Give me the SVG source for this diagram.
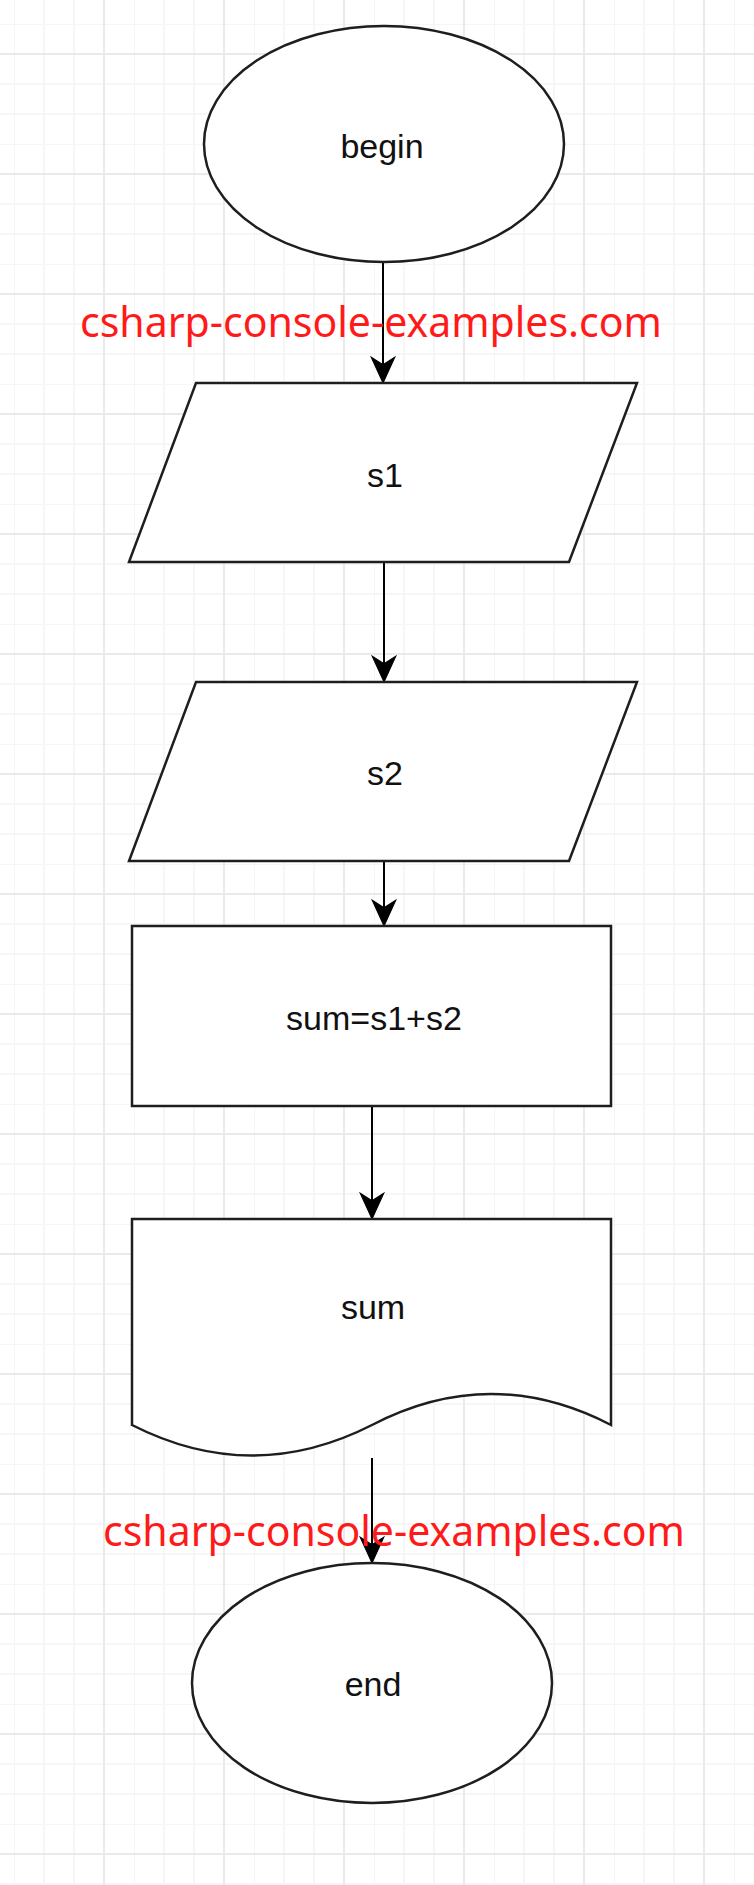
<svg xmlns="http://www.w3.org/2000/svg" width="754" height="1885" viewBox="0 0 754 1885">
  <defs>
    <pattern id="grid" x="14" y="24" width="120" height="120" patternUnits="userSpaceOnUse">
      <g stroke="#f6f6f6" stroke-width="2">
        <line x1="0" y1="0" x2="0" y2="120"/>
        <line x1="30" y1="0" x2="30" y2="120"/>
        <line x1="60" y1="0" x2="60" y2="120"/>
        <line x1="0" y1="0" x2="120" y2="0"/>
        <line x1="0" y1="60" x2="120" y2="60"/>
        <line x1="0" y1="90" x2="120" y2="90"/>
      </g>
      <g stroke="#eaeaea" stroke-width="2">
        <line x1="90" y1="0" x2="90" y2="120"/>
        <line x1="0" y1="30" x2="120" y2="30"/>
      </g>
    </pattern>
    <marker id="arrow" markerUnits="userSpaceOnUse" markerWidth="30" markerHeight="30" viewBox="-26 -13 28 26" refX="0" refY="0" orient="auto">
      <path d="M0,0 L-24,-11 L-17,0 L-24,11 Z" fill="#000" stroke="#000" stroke-width="1" stroke-linejoin="miter"/>
    </marker>
    <style>
      .shape { fill: #ffffff; stroke: #1e1e1e; stroke-width: 2.5; }
      .label { font-family: "Liberation Sans", Arial, sans-serif; font-size: 34px; fill: #111111; text-anchor: middle; }
      .mark { font-family: "Noto Sans", "Open Sans", sans-serif; font-size: 41px; fill: #ff1a1a; }
      .conn { stroke: #000000; stroke-width: 2; fill: none; marker-end: url(#arrow); }
    </style>
  </defs>
  <rect x="0" y="0" width="754" height="1885" fill="#ffffff"/>
  <rect x="0" y="0" width="754" height="1885" fill="url(#grid)"/>

  <g id="connectors">
    <line class="conn" x1="383" y1="262" x2="383" y2="383"/>
    <line class="conn" x1="384" y1="562" x2="384" y2="682"/>
    <line class="conn" x1="384" y1="861" x2="384" y2="926"/>
    <line class="conn" x1="372" y1="1106" x2="372" y2="1219"/>
    <line class="conn" x1="372" y1="1458" x2="372" y2="1563"/>
  </g>

  <g id="begin">
    <ellipse class="shape" cx="384" cy="144" rx="180" ry="118"/>
    <text class="label" x="382" y="158">begin</text>
  </g>

  <g id="input-s1">
    <polygon class="shape" points="196,383 637,383 569,562 129,562"/>
    <text class="label" x="385" y="487">s1</text>
  </g>

  <g id="input-s2">
    <polygon class="shape" points="196,682 637,682 569,861 129,861"/>
    <text class="label" x="385" y="785">s2</text>
  </g>

  <g id="process">
    <rect class="shape" x="132" y="926" width="479" height="180"/>
    <text class="label" x="374" y="1030">sum=s1+s2</text>
  </g>

  <g id="output-sum">
    <path class="shape" d="M132,1219 L611,1219 L611,1425 Q491,1363 372,1425 Q252,1486 132,1425 Z"/>
    <text class="label" x="373" y="1319">sum</text>
  </g>

  <g id="end">
    <ellipse class="shape" cx="372" cy="1683" rx="180" ry="120"/>
    <text class="label" x="373" y="1696">end</text>
  </g>

  <g id="watermarks">
    <text class="mark" x="80" y="337">csharp-console-examples.com</text>
    <text class="mark" x="103" y="1546">csharp-console-examples.com</text>
  </g>
</svg>
